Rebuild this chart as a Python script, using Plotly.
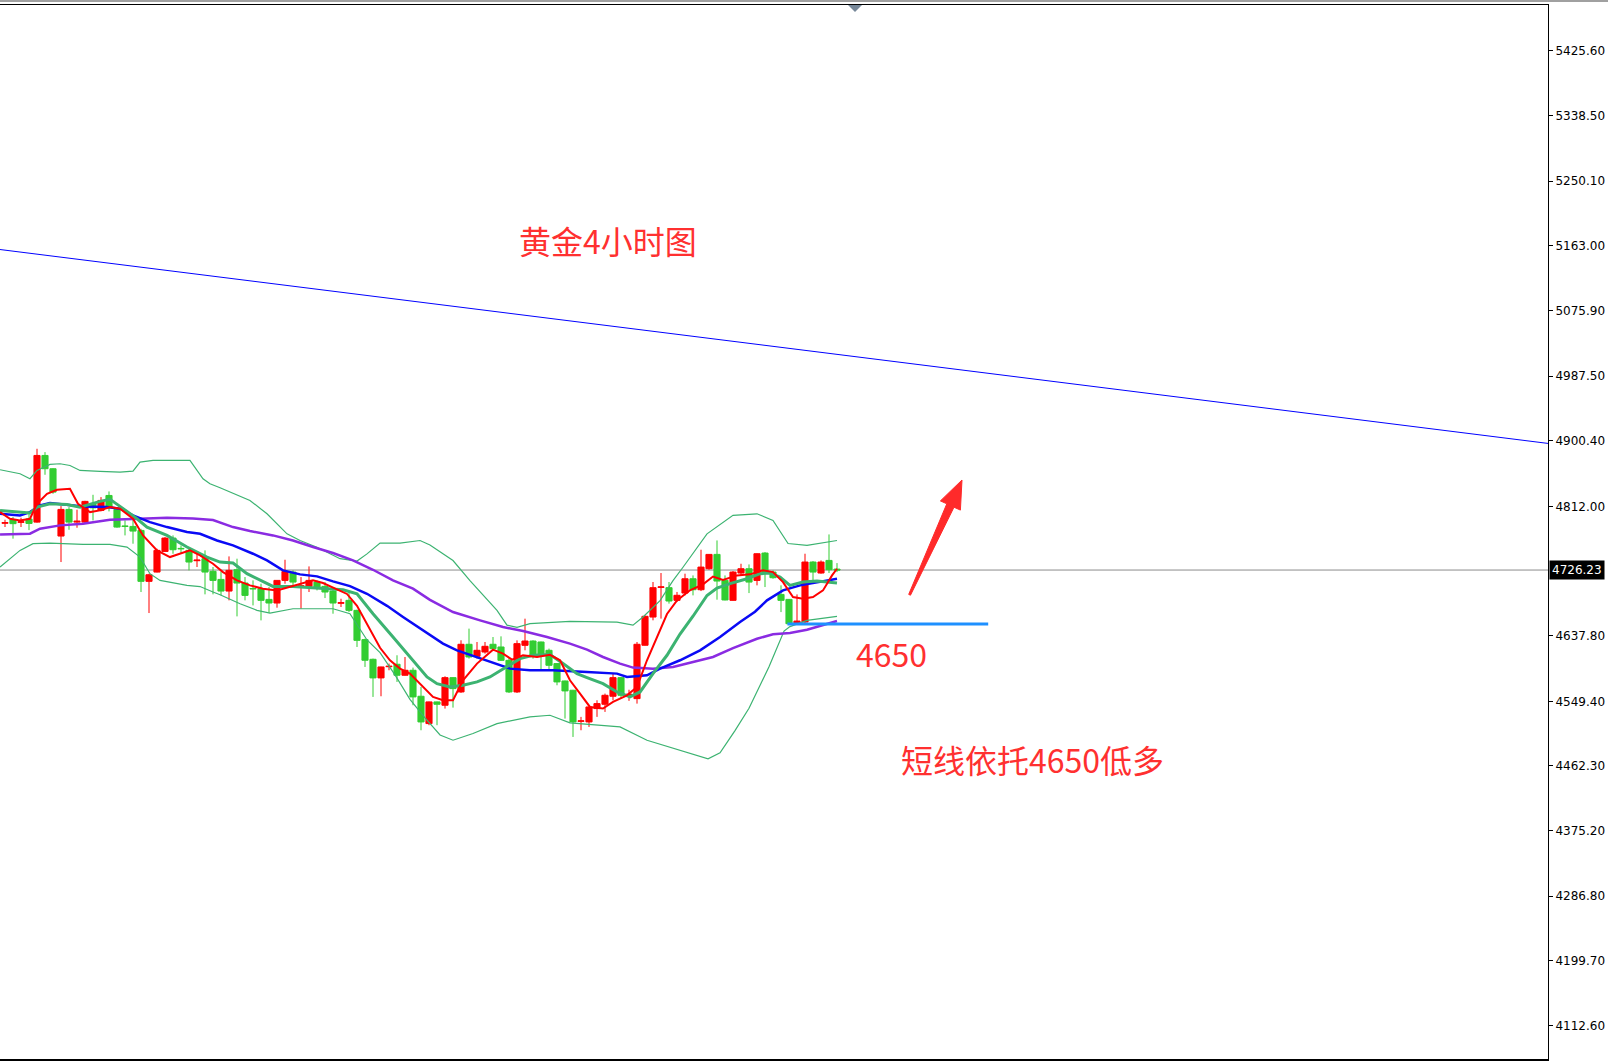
import plotly.graph_objects as go

# ---------------- data ----------------
OPEN = [4789.3, 4794.0, 4790.5, 4795.0, 4790.8, 4880.6, 4862.7, 4772.0, 4807.9, 4790.8,
        4790.8, 4815.0, 4806.6, 4826.7, 4807.9, 4785.6, 4785.0, 4779.6, 4711.0, 4723.5,
        4751.3, 4769.3, 4755.4, 4752.7, 4738.8, 4741.5, 4724.5, 4713.6, 4697.9, 4726.7,
        4708.7, 4701.4, 4701.1, 4686.7, 4681.8, 4712.3, 4723.5, 4704.0, 4704.2, 4710.0,
        4704.2, 4697.9, 4681.5, 4685.4, 4671.9, 4632.5, 4606.0, 4580.9, 4596.0, 4599.3,
        4584.5, 4591.2, 4556.2, 4519.4, 4548.6, 4544.1, 4581.3, 4562.0, 4626.2, 4610.0,
        4615.8, 4626.2, 4622.6, 4604.6, 4562.0, 4624.8, 4630.6, 4629.3, 4618.1, 4600.2,
        4576.8, 4564.3, 4522.5, 4521.6, 4539.6, 4545.4, 4556.2, 4581.3, 4556.0, 4553.0,
        4624.9, 4662.9, 4702.9, 4702.5, 4685.4, 4695.2, 4714.5, 4699.7, 4728.0, 4747.3,
        4712.3, 4685.4, 4722.2, 4728.0, 4712.3, 4749.1, 4723.5, 4693.4, 4686.7, 4654.8,
        4656.2, 4737.0, 4722.2, 4739.2, 4727.5]
HIGH = [4794.0, 4797.6, 4796.7, 4802.0, 4889.6, 4885.1, 4863.5, 4812.4, 4811.0, 4807.5,
        4819.5, 4827.6, 4824.5, 4832.1, 4811.0, 4793.1, 4795.3, 4781.8, 4721.3, 4754.9,
        4770.6, 4772.9, 4759.4, 4757.2, 4750.5, 4752.7, 4730.3, 4724.4, 4744.6, 4741.5,
        4716.8, 4712.3, 4707.8, 4703.3, 4712.5, 4740.1, 4725.8, 4716.8, 4731.1, 4712.3,
        4710.0, 4702.4, 4687.6, 4696.6, 4672.8, 4633.8, 4606.9, 4596.0, 4600.2, 4611.4,
        4609.1, 4594.8, 4568.8, 4549.0, 4549.0, 4583.1, 4581.8, 4631.6, 4647.3, 4629.3,
        4629.3, 4636.0, 4636.9, 4609.1, 4631.5, 4660.7, 4631.6, 4629.8, 4620.4, 4600.7,
        4577.3, 4564.8, 4528.4, 4542.2, 4550.8, 4559.8, 4586.7, 4582.2, 4565.0, 4629.3,
        4665.2, 4710.1, 4722.2, 4710.1, 4696.7, 4721.3, 4719.0, 4753.6, 4747.8, 4766.1,
        4719.0, 4724.9, 4734.7, 4733.8, 4748.7, 4750.4, 4725.8, 4705.6, 4687.2, 4693.4,
        4748.2, 4738.3, 4739.2, 4774.2, 4735.6]
LOW = [4784.2, 4768.5, 4784.2, 4780.0, 4790.0, 4854.6, 4829.0, 4737.0, 4780.5, 4783.2,
       4788.6, 4793.1, 4805.2, 4805.2, 4783.2, 4772.9, 4761.7, 4696.6, 4668.3, 4723.0,
       4751.0, 4748.2, 4748.2, 4725.8, 4730.3, 4693.5, 4693.5, 4692.1, 4685.4, 4663.8,
       4685.4, 4678.6, 4658.4, 4668.3, 4675.5, 4707.8, 4703.3, 4674.1, 4696.6, 4698.8,
       4688.5, 4667.4, 4676.4, 4669.6, 4622.6, 4595.7, 4555.3, 4556.2, 4591.2, 4575.5,
       4584.0, 4544.1, 4510.4, 4517.2, 4517.2, 4539.6, 4540.9, 4560.7, 4606.9, 4606.9,
       4613.6, 4618.1, 4603.7, 4560.6, 4560.6, 4618.1, 4606.9, 4592.5, 4591.2, 4571.0,
       4526.1, 4501.4, 4510.4, 4514.9, 4528.4, 4535.1, 4550.8, 4553.0, 4550.0, 4546.3,
       4624.5, 4658.5, 4660.8, 4681.0, 4683.2, 4692.1, 4692.1, 4697.9, 4726.7, 4686.3,
       4685.4, 4685.0, 4719.0, 4695.2, 4705.6, 4703.3, 4714.5, 4669.6, 4653.0, 4653.9,
       4654.8, 4710.0, 4721.3, 4722.2, 4723.5]
CLOSE = [4790.0, 4788.7, 4791.2, 4789.0, 4880.6, 4862.7, 4831.2, 4807.9, 4790.8, 4792.0,
         4818.7, 4810.0, 4820.0, 4811.0, 4784.1, 4785.0, 4778.7, 4711.0, 4719.9, 4752.7,
         4769.3, 4753.6, 4754.9, 4737.0, 4739.6, 4723.5, 4712.3, 4697.9, 4725.8, 4708.7,
         4692.1, 4700.9, 4685.4, 4681.8, 4712.3, 4724.4, 4710.0, 4705.0, 4712.3, 4702.4,
         4696.6, 4681.8, 4682.2, 4671.9, 4631.5, 4604.7, 4580.9, 4595.7, 4596.6, 4584.5,
         4591.2, 4555.3, 4521.6, 4548.6, 4545.4, 4581.3, 4566.5, 4626.2, 4609.1, 4618.1,
         4623.5, 4620.3, 4604.6, 4562.0, 4627.1, 4630.6, 4611.0, 4611.0, 4597.9, 4575.5,
         4563.4, 4521.6, 4523.0, 4541.8, 4546.3, 4557.5, 4581.3, 4557.5, 4559.0, 4626.2,
         4663.9, 4702.5, 4703.5, 4684.5, 4692.2, 4714.5, 4699.7, 4730.2, 4747.3, 4711.4,
         4685.9, 4723.5, 4728.0, 4710.0, 4748.2, 4722.2, 4715.9, 4685.4, 4653.9, 4657.5,
         4737.0, 4723.5, 4737.0, 4726.7, 4726.23]
BAR = list(range(len(CLOSE)))

# indicator lines: (bar position, price)
MA_RED = [(-0.62, 4804.3), (0.62, 4795.3), (1.88, 4793.1), (3.12, 4795.3), (4, 4815.5), (5.25, 4829.0),
          (6.5, 4834.4), (8.12, 4835.7), (9.12, 4815.5), (10.62, 4804.3), (11.88, 4806.6), (13.12, 4811.0),
          (14.38, 4808.8), (16, 4795.3), (17.25, 4772.9), (19, 4752.7), (20.62, 4743.7), (21.88, 4748.2),
          (23.12, 4752.7), (24.38, 4746.0), (26, 4734.7), (27.25, 4723.5), (29, 4712.3), (30.62, 4705.6),
          (32.25, 4701.1), (34, 4698.8), (35.25, 4702.4), (36.88, 4706.9), (38.5, 4712.3), (39.75, 4708.7),
          (41.5, 4699.7), (42.75, 4694.0), (44, 4678.0), (45.25, 4654.0), (46.88, 4621.5), (48.12, 4604.7),
          (49.38, 4593.4), (50.62, 4586.7), (52.25, 4568.8), (53.5, 4555.3), (54.75, 4550.8), (56, 4550.8),
          (57.25, 4577.7), (59, 4600.2), (61, 4619.0), (62.25, 4613.6), (63.38, 4605.6), (64.75, 4611.4),
          (66.5, 4609.1), (68.12, 4612.0), (69.38, 4604.7), (70.62, 4577.7), (71.88, 4559.8), (73.12, 4541.8),
          (74.75, 4539.6), (76, 4548.6), (77.75, 4557.5), (79, 4568.8), (80.25, 4604.7), (81.5, 4636.1),
          (82.75, 4667.0), (84, 4685.4), (85.62, 4699.0), (87.25, 4707.0), (88.5, 4717.5), (89.75, 4713.0),
          (91.5, 4719.0), (93.12, 4720.4), (94.75, 4725.8), (96, 4723.5), (97.25, 4710.0), (98.5, 4689.8),
          (99.75, 4687.6), (101, 4689.8), (102.25, 4698.8), (103.38, 4719.0), (104, 4728.0)]
MA_GREEN = [(-0.62, 4806.6), (3.12, 4803.0), (4, 4811.0), (5.62, 4815.5), (7.75, 4814.6), (9.38, 4811.0),
            (11.88, 4818.7), (13.12, 4821.4), (14.38, 4812.0), (16.5, 4795.3), (17.75, 4784.1), (20.25, 4772.9),
            (22.75, 4757.2), (25.25, 4743.7), (26.88, 4737.0), (28.5, 4735.6), (30.25, 4721.3), (31.88, 4712.3),
            (33.5, 4704.2), (36, 4704.2), (38.12, 4702.4), (39.75, 4701.1), (42.25, 4699.7), (44, 4694.3),
            (46, 4667.4), (48.5, 4636.0), (51, 4604.7), (52.75, 4582.2), (54, 4573.2), (55.62, 4568.8),
            (57.25, 4571.0), (59, 4575.5), (60.62, 4582.2), (62.75, 4595.7), (64.38, 4606.9), (66, 4611.4),
            (68.12, 4612.5), (69.75, 4600.2), (71.5, 4586.7), (72.75, 4581.3), (74.75, 4573.2), (76.5, 4562.0),
            (78.12, 4555.3), (79.38, 4562.0), (81, 4586.7), (82.75, 4611.4), (84.38, 4640.0), (86, 4664.0),
            (87.75, 4692.0), (89, 4702.0), (90.62, 4708.0), (92.75, 4714.5), (94.38, 4721.3), (95.62, 4722.2),
            (96.88, 4716.8), (98.12, 4705.6), (99.75, 4710.0), (101.5, 4711.4), (104, 4708.7)]
MA_BLUE = [(-0.62, 4802.1), (1.88, 4799.8), (3.12, 4804.3), (4.38, 4813.3), (5.62, 4816.4), (7.75, 4814.6),
           (9.75, 4811.9), (12.75, 4811.0), (14.38, 4808.8), (16, 4799.8), (18.12, 4790.8), (20.25, 4784.1),
           (22.75, 4777.4), (24.38, 4775.0), (26.5, 4766.0), (28.5, 4759.4), (31, 4748.2), (32.75, 4739.2),
           (34.75, 4725.8), (36.88, 4720.4), (39, 4717.7), (41, 4711.0), (43.12, 4704.5), (45.25, 4694.3),
           (47.75, 4678.0), (49.75, 4663.0), (52.25, 4645.0), (54.75, 4627.1), (56.5, 4618.1), (59, 4609.1),
           (61.5, 4600.2), (63.12, 4593.4), (65.62, 4591.2), (68.5, 4591.2), (72.75, 4589.0), (76.5, 4586.7),
           (77.75, 4582.2), (80.25, 4584.5), (81.88, 4593.4), (84.38, 4604.7), (86.88, 4618.1), (89.38, 4636.1),
           (91.88, 4656.3), (93.75, 4670.0), (95.25, 4685.4), (97.25, 4698.8), (99.38, 4705.6), (101.88, 4710.0),
           (104, 4714.5)]
MA_PURPLE = [(-0.62, 4774.2), (3.12, 4775.2), (4.38, 4781.9), (6.88, 4786.4), (9.75, 4788.6), (13.12, 4794.0),
             (16, 4794.9), (20.25, 4796.7), (23.5, 4795.8), (26, 4793.5), (28.5, 4784.1), (30.62, 4778.7),
             (33.5, 4772.9), (36, 4766.1), (38.5, 4757.2), (41, 4749.1), (43.5, 4739.2), (46, 4726.6),
             (48.5, 4712.3), (51, 4701.1), (53.12, 4686.0), (56, 4669.7), (59.38, 4658.5), (62.25, 4649.5),
             (64.75, 4644.0), (67.75, 4636.1), (70.62, 4627.1), (72.75, 4619.0), (74.75, 4609.1), (76.88, 4600.2),
             (78.5, 4594.8), (81, 4593.4), (83.5, 4595.7), (86, 4602.4), (88.5, 4609.1), (91, 4621.0),
             (94, 4633.7), (96, 4639.6), (98.12, 4641.4), (100.25, 4645.9), (102.25, 4651.7), (104, 4657.5)]
BB_UPPER = [(-0.62, 4861.3), (1.88, 4855.9), (3.12, 4849.2), (4, 4860.4), (5.62, 4868.5), (6.88, 4869.4),
            (8.12, 4867.1), (9.38, 4860.4), (11.88, 4859.1), (14.38, 4858.2), (16, 4859.5), (16.88, 4871.6),
            (18.5, 4873.9), (23.12, 4873.9), (24.75, 4849.2), (25.62, 4842.5), (26.88, 4837.1), (30.62, 4820.0),
            (32.75, 4802.0), (35.25, 4775.0), (36.88, 4766.0), (39, 4757.0), (41.88, 4741.5), (44, 4738.3),
            (45.25, 4748.0), (46.88, 4762.6), (49.38, 4762.6), (51.88, 4766.0), (53.12, 4760.0), (56, 4739.0),
            (58.12, 4712.0), (60, 4690.0), (61.5, 4672.0), (62.75, 4652.0), (64, 4649.0), (65.62, 4654.0),
            (68.12, 4656.0), (70.62, 4657.0), (76.5, 4656.0), (78.5, 4652.0), (79.75, 4663.0), (81.88, 4685.0),
            (83.5, 4712.0), (84.75, 4730.0), (87.75, 4775.0), (91, 4800.0), (94, 4802.0), (96, 4793.0),
            (97.88, 4762.0), (100.25, 4759.4), (104, 4766.0)]
BB_LOWER = [(-0.62, 4730.3), (1.88, 4752.7), (3.5, 4761.7), (5.62, 4762.6), (9.75, 4760.8), (13.12, 4760.8),
            (15.25, 4757.2), (16.88, 4743.7), (18.12, 4721.3), (19.38, 4712.3), (22.75, 4705.6), (24.38, 4704.0),
            (26, 4696.6), (26.88, 4693.0), (29.38, 4680.9), (31.5, 4671.9), (33.12, 4668.3), (36, 4674.1),
            (38.5, 4674.1), (41, 4674.1), (43.12, 4667.4), (45.25, 4632.0), (46.88, 4615.0), (48.75, 4585.0),
            (50.62, 4552.0), (52.5, 4527.0), (54.38, 4504.0), (56, 4497.0), (58.5, 4506.0), (61.5, 4519.4),
            (65.62, 4528.4), (68.12, 4530.6), (70.62, 4520.3), (76.88, 4514.9), (80.25, 4497.0), (84, 4485.0),
            (87.88, 4472.0), (89.38, 4480.0), (91.25, 4510.0), (93, 4540.0), (95.5, 4596.0), (97.38, 4644.0),
            (98.12, 4650.0), (100.25, 4658.4), (104, 4663.8)]

TREND_X = [-0.625, 192.875]
TREND_Y = [5158.0, 4896.8]
SUPPORT_X = [97.8, 122.9]
SUPPORT_LEVEL = 4653.5
LAST_PRICE = 4726.23

TICK_VALS = [5425.60, 5338.50, 5250.10, 5163.00, 5075.90, 4987.50, 4900.40, 4812.00,
             4637.80, 4549.40, 4462.30, 4375.20, 4286.80, 4199.70, 4112.60]
TICK_TEXT = ["%.2f" % v for v in TICK_VALS]

TITLE = "黄金4小时图"
LEVEL_TEXT = "4650"
NOTE_TEXT = "短线依托4650低多"

# ---------------- layout geometry ----------------
W, H = 1608, 1062
ML, MR, MT, MB = 0, 60, 5, 2
PW, PH = W - ML - MR, H - MT - MB
X_RANGE = [-0.625, 192.875]
Y_RANGE = [4066.2, 5487.4]


def pp(x, y):
    """pixel -> paper coordinates"""
    return (x - ML) / PW, 1 - (y - MT) / PH


def xy(pairs):
    return [p[0] for p in pairs], [p[1] for p in pairs]


fig = go.Figure()

fig.add_trace(go.Candlestick(
    x=BAR, open=OPEN, high=HIGH, low=LOW, close=CLOSE,
    increasing=dict(line=dict(color="#FF0000", width=1), fillcolor="#FF0000"),
    decreasing=dict(line=dict(color="#32CD32", width=1), fillcolor="#32CD32"),
    whiskerwidth=0, showlegend=False, hoverinfo="skip"))

for pairs, color, width, dash in [
    (BB_UPPER, "#3CB371", 1.2, "solid"),
    (BB_LOWER, "#3CB371", 1.2, "solid"),
    (MA_PURPLE, "#8A2BE2", 2.5, "solid"),
    (MA_BLUE, "#0A0AF5", 2.5, "solid"),
    (MA_GREEN, "#3CB371", 3, "solid"),
    (MA_RED, "#FF0000", 2, "solid"),
]:
    xs, ys = xy(pairs)
    fig.add_trace(go.Scatter(x=xs, y=ys, mode="lines",
                             line=dict(color=color, width=width, dash=dash),
                             showlegend=False, hoverinfo="skip"))

fig.add_trace(go.Scatter(x=TREND_X, y=TREND_Y, mode="lines",
                         line=dict(color="#0000FF", width=1), showlegend=False, hoverinfo="skip"))
fig.add_trace(go.Scatter(x=SUPPORT_X, y=[SUPPORT_LEVEL, SUPPORT_LEVEL], mode="lines",
                         line=dict(color="#1E90FF", width=3), showlegend=False, hoverinfo="skip"))

shapes = []
# last price line
shapes.append(dict(type="line", xref="paper", yref="y", x0=0, x1=1, y0=LAST_PRICE, y1=LAST_PRICE,
                   line=dict(color="#8C8C8C", width=1), layer="below"))
# grey top rule of the window
gx0, gy = pp(0, 1)
gx1, _ = pp(W, 1)
shapes.append(dict(type="line", xref="paper", yref="paper", x0=gx0, x1=gx1, y0=gy, y1=gy,
                   line=dict(color="#A0A0A0", width=2)))
# bottom frame line (a bit heavier)
bx0, by = pp(0, H - 2)
bx1, _ = pp(ML + PW, H - 2)
shapes.append(dict(type="line", xref="paper", yref="paper", x0=bx0, x1=bx1, y0=by, y1=by,
                   line=dict(color="#000000", width=2)))
# small shift marker triangle at top
t1 = pp(848, 5); t2 = pp(862, 5); t3 = pp(855, 12)
shapes.append(dict(type="path", xref="paper", yref="paper",
                   path="M %f %f L %f %f L %f %f Z" % (t1[0], t1[1], t2[0], t2[1], t3[0], t3[1]),
                   fillcolor="#778899", line=dict(width=0)))
# red arrow
arrow_px = [(908.7, 594.4), (946.8, 503.8), (940.4, 500.9), (962.0, 480.0),
            (960.4, 510.1), (954.0, 507.2), (910.5, 595.2)]
ap = [pp(a, b) for a, b in arrow_px]
path = "M %f %f " % ap[0] + " ".join("L %f %f" % p for p in ap[1:]) + " Z"
shapes.append(dict(type="path", xref="paper", yref="paper", path=path,
                   fillcolor="#FF2A2A", line=dict(color="#FF2A2A", width=1)))

annotations = []
red_font = dict(family="Noto Sans CJK SC", size=32, color="#FF3030")
for text, cx, cy in [(TITLE, 608, 240), (LEVEL_TEXT, 891, 653), (NOTE_TEXT, 1032, 759)]:
    ax, ay = pp(cx, cy)
    annotations.append(dict(text=text, xref="paper", yref="paper", x=ax, y=ay,
                            xanchor="center", yanchor="middle", showarrow=False, font=red_font))
annotations.append(dict(text="4726.23", xref="paper", yref="y", x=1, y=LAST_PRICE, xshift=1,
                        xanchor="left", yanchor="middle", showarrow=False, bgcolor="#000000",
                        borderpad=2, font=dict(family="DejaVu Sans", size=12, color="#FFFFFF")))

fig.update_layout(
    width=W, height=H,
    margin=dict(l=ML, r=MR, t=MT, b=MB, pad=0),
    paper_bgcolor="#FFFFFF", plot_bgcolor="#FFFFFF",
    showlegend=False, boxgap=0.15, boxgroupgap=0.1,
    shapes=shapes, annotations=annotations,
    xaxis=dict(range=X_RANGE, showgrid=False, zeroline=False, showticklabels=False, ticks="",
               showline=True, mirror=True, linecolor="#000000", linewidth=1,
               rangeslider=dict(visible=False), fixedrange=True),
    yaxis=dict(range=Y_RANGE, side="right", showgrid=False, zeroline=False,
               tickmode="array", tickvals=TICK_VALS, ticktext=TICK_TEXT,
               ticks="outside", ticklen=4, tickcolor="#000000", tickwidth=1,
               showline=True, linecolor="#000000", linewidth=1,
               tickfont=dict(family="DejaVu Sans", size=12, color="#000000"),
               fixedrange=True),
)

fig.write_html("out.html", config={"displayModeBar": False},
               post_script="document.body.style.margin='0px';document.body.style.overflow='hidden';")
